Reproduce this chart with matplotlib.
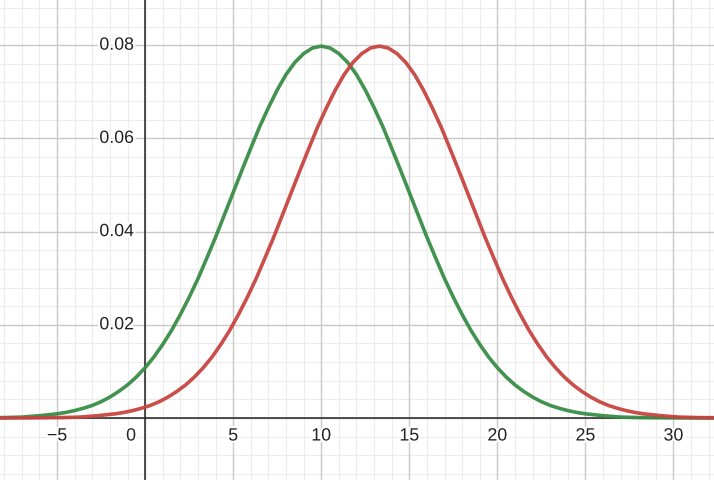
import matplotlib
matplotlib.use('Agg')
import numpy as np
from matplotlib import pyplot as plt
import matplotlib.patheffects as pe

### Data
# green curve (peak at x=10)
green_x = [-9, -8, -7, -6, -5, -4.5, -4, -3.5, -3, -2.5, -2, -1.5, -1, -0.5,
           0, 0.5, 1, 1.5, 2, 2.5, 3, 3.5, 4, 4.5, 5, 5.5, 6, 6.5, 7, 7.5,
           8, 8.5, 9, 9.5, 10, 10.5, 11, 11.5, 12, 12.5, 13, 13.5, 14, 14.5,
           15, 15.5, 16, 16.5, 17, 17.5, 18, 18.5, 19, 19.5, 20, 20.5, 21,
           21.5, 22, 22.5, 23, 23.5, 24, 24.5, 25, 26, 27, 28, 29, 30, 31, 32, 33]
green_y = [0.00006, 0.0001, 0.0002, 0.0005, 0.0009, 0.0012, 0.0016, 0.0021,
           0.0027, 0.0035, 0.0045, 0.0057, 0.0071, 0.0088,
           0.0108, 0.0131, 0.0158, 0.0188, 0.0222, 0.0259, 0.0299, 0.0343,
           0.0388, 0.0436, 0.0484, 0.0532, 0.0579, 0.0625, 0.0666, 0.0704,
           0.0737, 0.0763, 0.0782, 0.0794, 0.0798, 0.0794, 0.0782, 0.0763,
           0.0737, 0.0704, 0.0666, 0.0625, 0.0579, 0.0532, 0.0484, 0.0436,
           0.0388, 0.0343, 0.0299, 0.0259, 0.0222, 0.0188, 0.0158, 0.0131,
           0.0108, 0.0088, 0.0071, 0.0057, 0.0045, 0.0035, 0.0027, 0.0021,
           0.0016, 0.0012, 0.0009, 0.0005, 0.0002, 0.0001, 0.00006, 0.00003,
           0.00001, 0.0, 0.0]

# red curve (peak at x~13.3)
red_x = [-9, -7, -5.7, -4.7, -3.7, -2.7, -1.7, -1.2, -0.7, -0.2, 0.3, 0.8,
         1.3, 1.8, 2.3, 2.8, 3.3, 3.8, 4.3, 4.8, 5.3, 5.8, 6.3, 6.8, 7.3,
         7.8, 8.3, 8.8, 9.3, 9.8, 10.3, 10.8, 11.3, 11.8, 12.3, 12.8, 13.3,
         13.8, 14.3, 14.8, 15.3, 15.8, 16.3, 16.8, 17.3, 17.8, 18.3, 18.8,
         19.3, 19.8, 20.3, 20.8, 21.3, 21.8, 22.3, 22.8, 23.3, 23.8, 24.3,
         24.8, 25.3, 25.8, 26.3, 26.8, 27.3, 27.8, 28.3, 29.3, 30.3, 31.3,
         32.3, 33.3]
red_y = [0.0, 0.00002, 0.00006, 0.0001, 0.0002, 0.0005, 0.0009, 0.0012,
         0.0016, 0.0021, 0.0027, 0.0035, 0.0045, 0.0057, 0.0071, 0.0088,
         0.0108, 0.0131, 0.0158, 0.0188, 0.0222, 0.0259, 0.0299, 0.0343,
         0.0388, 0.0436, 0.0484, 0.0532, 0.0579, 0.0625, 0.0666, 0.0704,
         0.0737, 0.0763, 0.0782, 0.0794, 0.0798, 0.0794, 0.0782, 0.0763,
         0.0737, 0.0704, 0.0666, 0.0625, 0.0579, 0.0532, 0.0484, 0.0436,
         0.0388, 0.0343, 0.0299, 0.0259, 0.0222, 0.0188, 0.0158, 0.0131,
         0.0108, 0.0088, 0.0071, 0.0057, 0.0045, 0.0035, 0.0027, 0.0021,
         0.0016, 0.0012, 0.0009, 0.0005, 0.0002, 0.0001, 0.00006, 0.00003]

x_ticks = [-5, 0, 5, 10, 15, 20, 25, 30]
x_tick_labels = ['\u22125', '0', '5', '10', '15', '20', '25', '30']
y_ticks = [0.02, 0.04, 0.06, 0.08]
y_tick_labels = ['0.02', '0.04', '0.06', '0.08']

green = '#388c46'
red = '#c74440'

# ----------------------------------------------------------------------------

fig = plt.figure(figsize=(7.14, 4.8), dpi=100)
ax = fig.add_axes([0, 0, 1, 1])
ax.set_xlim(-8.24, 32.3)
ax.set_ylim(-0.0133, 0.0897)

# grid
for xv in range(-8, 33):
    major = (xv % 5 == 0)
    ax.axvline(xv, color='#c9c9c9' if major else '#ececec',
               lw=1.0 if major else 0.8, zorder=1 if major else 0)
for k in range(-3, 23):
    yv = k * 0.004
    major = (k % 5 == 0)
    ax.axhline(yv, color='#c9c9c9' if major else '#ececec',
               lw=1.0 if major else 0.8, zorder=1 if major else 0)

# axes lines
ax.axhline(0, color='#222222', lw=1.1, zorder=2)
ax.axvline(0, color='#222222', lw=1.1, zorder=2)

# curves
ax.plot(green_x, green_y, color=green, lw=2.6, zorder=3, alpha=0.95,
        solid_capstyle='round', solid_joinstyle='round')
ax.plot(red_x, red_y, color=red, lw=2.6, zorder=4, alpha=0.95,
        solid_capstyle='round', solid_joinstyle='round')

halo = [pe.withStroke(linewidth=3, foreground='white')]
font = dict(family=['Liberation Sans', 'DejaVu Sans'], size=12.8, color='#222222')

for xv, lab in zip(x_ticks, x_tick_labels):
    if xv == 0:
        ax.annotate(lab, (0, 0), xytext=(-9, -18), textcoords='offset pixels',
                    ha='right', va='center', zorder=5, path_effects=halo, **font)
    else:
        ax.annotate(lab, (xv, 0), xytext=(0, -18), textcoords='offset pixels',
                    ha='center', va='center', zorder=5, path_effects=halo, **font)

for yv, lab in zip(y_ticks, y_tick_labels):
    ax.annotate(lab, (0, yv), xytext=(-11, 0), textcoords='offset pixels',
                ha='right', va='center', zorder=5, path_effects=halo, **font)

ax.set_xticks([])
ax.set_yticks([])
for s in ax.spines.values():
    s.set_visible(False)

fig.savefig('out.png', dpi=100)
